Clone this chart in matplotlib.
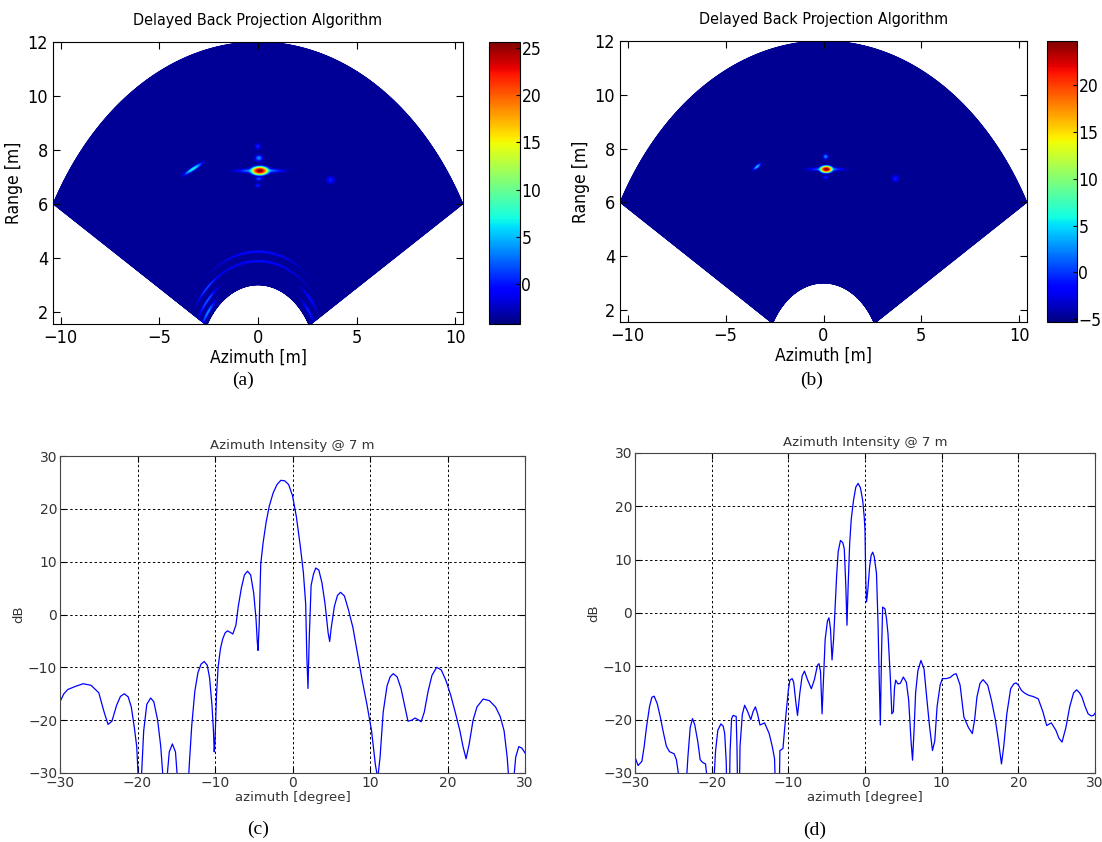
import numpy as np
import matplotlib
matplotlib.use("Agg")
import matplotlib.pyplot as plt

W, H = 1102, 842

# ---- azimuth cut through the target at 7 m, (c) ----
c_az = [-30, -29.5, -29, -28, -27, -26, -25, -24.3, -23.8, -23.3,
        -22.7, -22.2, -21.7, -21.2, -20.8, -20.4, -20.1, -20.0, -19.8, -19.5,
        -19.2, -18.8, -18.3, -17.9, -17.4, -17.0, -16.7, -16.5, -16.2, -15.9,
        -15.5, -15.1, -14.9, -14.7, -13.6, -13.3, -13.0, -12.6, -12.2, -11.8,
        -11.4, -11.0, -10.7, -10.4, -10.2, -10.1, -10.0, -9.8, -9.6, -9.3,
        -9.0, -8.7, -8.4, -8.0, -7.7, -7.3, -7.0, -6.6, -6.2, -5.8,
        -5.4, -5.0, -4.7, -4.55, -4.45, -4.3, -4.1, -3.8, -3.4, -3.0,
        -2.5, -2.0, -1.5, -1.0, -0.5, 0.0, 0.5, 1.0, 1.4, 1.7,
        1.85, 2.0, 2.15, 2.4, 2.7, 3.0, 3.4, 3.8, 4.2, 4.6,
        4.8, 5.0, 5.4, 5.8, 6.2, 6.7, 7.2, 7.8, 8.4, 9.0,
        9.6, 10.2, 10.7, 11.0, 11.3, 11.7, 12.2, 12.6, 13.0, 13.5,
        14.0, 14.5, 14.9, 15.4, 15.8, 16.2, 16.6, 17.0, 17.5, 18.0,
        18.6, 19.2, 19.8, 20.4, 21.0, 21.6, 22.0, 22.4, 22.8, 23.3,
        23.8, 24.6, 25.4, 26.2, 26.8, 27.3, 27.7, 28.0, 28.2, 28.5,
        28.8, 29.2, 29.6, 30.0]
c_db = [-16.5, -15.0, -14.2, -13.6, -13.1, -13.4, -14.8, -18.5, -20.8, -20.2,
        -17.2, -15.5, -15.0, -15.6, -17.5, -21.5, -25.0, -28.0, -34.0, -31.0,
        -22.0, -17.0, -15.8, -16.5, -20.0, -25.0, -31.0, -36.0, -31.0, -26.0,
        -24.5, -26.0, -30.0, -36.0, -36.0, -28.0, -21.0, -14.5, -11.0, -9.4,
        -8.9, -9.6, -12.0, -17.0, -22.0, -26.0, -24.0, -15.0, -10.0, -6.5,
        -4.6, -3.5, -3.1, -3.4, -3.7, -2.0, 1.5, 5.0, 7.5, 8.2,
        7.5, 4.0, -1.0, -5.0, -6.8, -2.0, 9.5, 13.5, 17.5, 20.5,
        23.0, 24.6, 25.4, 25.3, 24.6, 22.5, 18.5, 13.0, 8.0, 2.0,
        -8.0, -14.0, -5.0, 5.5, 7.6, 8.8, 8.4, 6.0, 2.0, -3.5,
        -5.1, -2.5, 1.5, 3.6, 4.2, 3.5, 1.0, -2.5, -7.5, -12.5,
        -17.0, -22.0, -28.5, -31.0, -27.0, -18.5, -13.5, -11.8, -11.2, -11.8,
        -14.0, -17.5, -20.2, -20.0, -19.6, -19.9, -20.3, -18.5, -14.5, -11.5,
        -10.0, -10.5, -12.5, -15.2, -18.5, -22.0, -25.0, -27.3, -24.5, -20.0,
        -17.5, -16.0, -16.3, -17.5, -19.3, -22.0, -27.0, -33.0, -36.0, -32.0,
        -27.0, -25.0, -25.3, -26.2]

# ---- azimuth cut through the target at 7 m, (d) ----
d_az = [-30, -29.6, -29.1, -28.8, -28.5, -28.1, -27.8, -27.5, -27.1, -26.7,
        -26.3, -25.9, -25.5, -24.9, -24.6, -24.3, -24.0, -23.4, -23.1, -22.8,
        -22.5, -22.2, -21.8, -21.5, -21.2, -20.8, -20.6, -20.3, -19.8, -19.5,
        -19.2, -18.8, -18.5, -18.3, -18.1, -18.0, -17.7, -17.6, -17.4, -17.2,
        -16.8, -16.7, -16.6, -16.4, -16.3, -16.0, -15.7, -15.3, -14.9, -14.6,
        -14.3, -14.0, -13.7, -13.1, -12.5, -12.1, -11.8, -11.7, -11.5, -11.2,
        -11.1, -10.7, -10.5, -10.3, -10.0, -9.8, -9.5, -9.3, -9.0, -8.8,
        -8.5, -8.2, -7.9, -7.5, -7.0, -6.6, -6.2, -6.0, -5.8, -5.6,
        -5.4, -5.2, -4.9, -4.7, -4.5, -4.3, -4.1, -3.9, -3.7, -3.5,
        -3.2, -2.9, -2.7, -2.5, -2.35, -2.2, -2.0, -1.8, -1.5, -1.2,
        -0.9, -0.6, -0.3, -0.1, 0.0, 0.1, 0.2, 0.35, 0.6, 0.8,
        1.0, 1.2, 1.5, 1.7, 1.85, 2.0, 2.15, 2.3, 2.6, 2.8,
        3.0, 3.3, 3.5, 3.7, 3.85, 4.0, 4.3, 4.6, 5.0, 5.4,
        5.7, 6.0, 6.2, 6.4, 6.6, 6.9, 7.3, 7.7, 8.0, 8.4,
        8.8, 9.1, 9.4, 9.8, 10.1, 10.6, 11.1, 11.6, 11.9, 12.4,
        12.9, 13.5, 14.0, 14.3, 14.6, 15.0, 15.4, 16.0, 16.5, 17.0,
        17.4, 17.8, 18.1, 18.5, 19.0, 19.4, 19.7, 20.0, 20.4, 20.8,
        21.3, 22.0, 22.6, 23.2, 23.7, 24.3, 24.9, 25.3, 25.7, 26.2,
        26.7, 27.2, 27.6, 28.0, 28.3, 28.7, 29.1, 29.5, 29.8, 30.0]
d_db = [-27.0, -28.6, -27.8, -25.0, -21.4, -17.5, -15.8, -15.6, -17.0, -19.5,
        -22.4, -25.0, -26.0, -26.4, -27.5, -30.5, -34.0, -34.0, -27.0, -21.5,
        -19.8, -21.0, -24.2, -27.5, -28.0, -28.3, -31.0, -35.0, -34.0, -26.0,
        -22.0, -20.8, -21.2, -22.6, -28.0, -35.0, -35.0, -26.0, -19.8, -19.2,
        -19.4, -25.0, -35.0, -35.0, -25.0, -19.0, -17.3, -18.5, -20.0, -18.5,
        -17.6, -19.0, -21.0, -20.6, -22.6, -25.0, -27.3, -32.0, -35.0, -35.0,
        -25.8, -25.4, -22.0, -18.9, -14.5, -12.6, -12.3, -13.0, -17.0, -19.2,
        -15.0, -11.8, -10.9, -12.5, -14.2, -12.5, -9.8, -9.5, -11.0, -18.9,
        -12.0, -5.0, -1.5, -0.9, -3.0, -8.8, -5.0, 1.0, 7.0, 11.5,
        13.6, 13.2, 12.0, 5.0, -2.3, 5.0, 13.0, 17.5, 21.1, 23.6,
        24.3, 23.5, 21.1, 18.0, 15.5, 6.1, 2.1, 4.0, 8.6, 10.8,
        11.4, 10.6, 7.4, -2.0, -12.0, -21.0, -8.0, 1.1, 0.8, -1.0,
        -3.9, -12.0, -18.9, -18.5, -14.0, -12.6, -13.3, -13.2, -12.0, -13.0,
        -16.4, -23.9, -27.6, -22.0, -15.0, -10.8, -8.9, -10.5, -15.1, -21.0,
        -25.8, -24.0, -17.6, -13.5, -12.3, -12.3, -12.1, -11.5, -11.4, -13.5,
        -19.5, -21.5, -22.6, -20.0, -15.75, -13.2, -12.5, -13.5, -16.4, -20.0,
        -23.9, -28.3, -25.0, -18.9, -14.2, -13.3, -13.1, -13.5, -14.5, -15.0,
        -15.4, -15.7, -16.1, -18.5, -21.1, -20.6, -22.0, -23.5, -24.2, -21.5,
        -17.6, -15.0, -14.4, -15.0, -15.75, -17.5, -18.9, -19.3, -19.2, -18.8]

# ---- back projection images: point responses (x, y, peak dB, sx, sy, tilt deg) ----
a_floor = -3.6
a_targets = [(0.10, 7.25, 25.6, 0.15, 0.055, 0),
             (0.10, 7.25, 5.0, 0.55, 0.04, 0),
             (0.05, 7.72, 3.0, 0.10, 0.06, 0),
             (0.00, 8.15, -1.0, 0.08, 0.06, 0),
             (0.05, 6.95, 1.0, 0.10, 0.04, 0),
             (0.00, 6.70, -1.0, 0.08, 0.04, 0),
             (-3.30, 7.32, 7.0, 0.24, 0.035, 25),
             (3.70, 6.90, -1.5, 0.12, 0.08, 0)]
# near-range arcs (radius, peak dB, width, centre angle deg, angular spread deg)
a_rings = [(4.25, -2.0, 0.03, 0, 18),
           (3.90, -2.0, 0.03, 0, 22),
           (3.25, 3.0, 0.04, -52, 5),
           (3.55, 1.5, 0.035, -47, 6),
           (3.90, 0.5, 0.03, -42, 6),
           (3.30, -1.0, 0.04, 52, 5),
           (3.65, -2.0, 0.04, 47, 5)]
a_range = (-4.2, 25.6)
a_ticks = [0, 5, 10, 15, 20, 25]

b_floor = -4.8
b_targets = [(0.15, 7.25, 24.7, 0.11, 0.045, 0),
             (0.15, 7.25, 2.0, 0.45, 0.035, 0),
             (0.12, 7.72, 2.0, 0.07, 0.05, 0),
             (0.12, 6.95, -2.0, 0.07, 0.04, 0),
             (-3.40, 7.35, 4.0, 0.11, 0.035, 30),
             (3.70, 6.90, -2.5, 0.10, 0.07, 0)]
b_rings = []
b_range = (-5.3, 24.7)
b_ticks = [-5, 0, 5, 10, 15, 20]


def box(l, t, r, b):
    return [l / W, 1 - b / H, (r - l) / W, (b - t) / H]


# narrow face for the image panels
narrow = dict(family="DejaVu Sans", stretch="condensed")

# polar sector: 3..12 m, -60..60 deg
r = np.linspace(3, 12, 450)
th = np.radians(np.linspace(-60, 60, 600))
R, TH = np.meshgrid(r, th, indexing="ij")
X = R * np.sin(TH)
Y = R * np.cos(TH)


def sar_image(floor, targets, rings):
    p = np.full(X.shape, 10 ** (floor / 10))
    for x0, y0, pk, sx, sy, ang in targets:
        a = np.radians(ang)
        u = (X - x0) * np.cos(a) + (Y - y0) * np.sin(a)
        v = -(X - x0) * np.sin(a) + (Y - y0) * np.cos(a)
        p += 10 ** (pk / 10) * np.exp(-0.5 * ((u / sx) ** 2 + (v / sy) ** 2))
    for r0, pk, w, t0, ts in rings:
        p += 10 ** (pk / 10) * np.exp(-0.5 * ((R - r0) / w) ** 2
                                      - 0.5 * ((np.degrees(TH) - t0) / ts) ** 2)
    return 10 * np.log10(p)


fig = plt.figure(figsize=(W / 100, H / 100), dpi=100)

top = [(box(53, 42, 463, 324), box(489, 42, 520, 324), a_floor, a_targets, a_rings, a_range, a_ticks),
       (box(620, 41, 1027, 322), box(1047, 41, 1077, 322), b_floor, b_targets, b_rings, b_range, b_ticks)]

for pos, cpos, floor, targets, rings, vr, ticks in top:
    ax = fig.add_axes(pos)
    Z = sar_image(floor, targets, rings)
    mesh = ax.pcolormesh(X, Y, Z, cmap="jet", vmin=vr[0], vmax=vr[1],
                         shading="gouraud", rasterized=True)
    ax.set_xlim(-10.4, 10.4)
    ax.set_ylim(1.55, 12)
    ax.set_xticks([-10, -5, 0, 5, 10])
    ax.set_yticks([2, 4, 6, 8, 10, 12])
    ax.tick_params(direction="in", top=True, right=True, length=5, labelsize=13)
    for t in ax.get_xticklabels() + ax.get_yticklabels():
        t.update(narrow)
    ax.set_title("Delayed Back Projection Algorithm", fontsize=11.5, pad=12, **narrow)
    ax.set_xlabel("Azimuth [m]", fontsize=12.5, labelpad=1, **narrow)
    ax.set_ylabel("Range [m]", fontsize=12.5, labelpad=3, **narrow)

    cax = fig.add_axes(cpos)
    cb = fig.colorbar(mesh, cax=cax, ticks=ticks)
    cb.outline.set_linewidth(0.8)
    cax.tick_params(direction="in", length=3, labelsize=12.5, pad=1)
    for t in cax.get_yticklabels():
        t.update(narrow)

bottom = [(box(60, 456, 525, 773), c_az, c_db),
          (box(635, 453, 1095, 773), d_az, d_db)]

for pos, az, db in bottom:
    ax = fig.add_axes(pos)
    ax.plot(az, db, color=(0, 0, 1), lw=0.9)
    ax.set_xlim(-30, 30)
    ax.set_ylim(-30, 30)
    ax.set_xticks(range(-30, 31, 10))
    ax.set_yticks(range(-30, 31, 10))
    ax.grid(True, color="k", linestyle=(0, (2.5, 2.5)), linewidth=0.7)
    ax.tick_params(direction="in", top=True, right=True, length=4,
                   labelsize=10, labelcolor="#333333", pad=2)
    for s in ax.spines.values():
        s.set_color("#444444")
    ax.set_title("Azimuth Intensity @ 7 m", fontsize=9.5, color="#333333", pad=5)
    ax.set_xlabel("azimuth [degree]", fontsize=9.5, color="#333333", labelpad=1)
    ax.set_ylabel("dB", fontsize=9.5, color="#333333", labelpad=2)

for txt, x, y in [("(a)", 243, 380), ("(b)", 812, 380), ("(c)", 258, 829), ("(d)", 815, 830)]:
    fig.text(x / W, 1 - y / H, txt, family="Liberation Serif", fontsize=14,
             ha="center", va="center")

fig.savefig("out.png", dpi=100)
